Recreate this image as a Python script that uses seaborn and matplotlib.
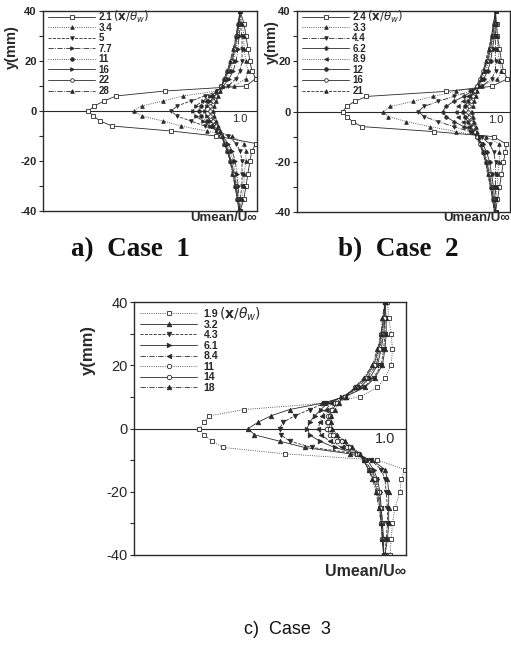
import numpy as np
import pandas as pd
import seaborn as sns
import matplotlib.pyplot as plt
from matplotlib.ticker import MultipleLocator

sns.set_style("ticks")
plt.rcParams['font.family'] = ['Liberation Sans', 'DejaVu Sans']
plt.rcParams['axes.unicode_minus'] = False

# y positions of the traverse (mm), same for every profile
y_mm = [-40, -35, -30, -25, -20, -16, -13, -10, -8, -6, -4, -2, 0,
        2, 4, 6, 8, 10, 13, 16, 20, 25, 30, 35, 40]

# Case 1: Umean/Uinf profiles, labels are x/theta_w
case1_labels = ["2.1", "3.4", "5", "7.7", "11", "16", "22", "28"]
case1_u = [
    [1.00, 1.02, 1.03, 1.04, 1.05, 1.06, 1.08, 0.88, 0.65, 0.35, 0.29, 0.255, 0.23,
     0.26, 0.31, 0.37, 0.62, 1.03, 1.08, 1.06, 1.05, 1.04, 1.03, 1.02, 1.00],
    [1.00, 1.01, 1.02, 1.02, 1.03, 1.03, 1.02, 0.96, 0.83, 0.70, 0.61, 0.50, 0.46,
     0.50, 0.61, 0.71, 0.88, 0.97, 1.03, 1.04, 1.03, 1.02, 1.02, 1.01, 1.00],
    [1.00, 1.00, 1.01, 1.01, 1.01, 1.00, 0.98, 0.94, 0.89, 0.82, 0.75, 0.68, 0.65,
     0.68, 0.75, 0.82, 0.89, 0.94, 0.98, 1.00, 1.01, 1.01, 1.01, 1.00, 1.00],
    [1.00, 0.995, 0.99, 0.985, 0.975, 0.96, 0.94, 0.91, 0.885, 0.85, 0.81, 0.775, 0.76,
     0.775, 0.81, 0.85, 0.885, 0.915, 0.945, 0.965, 0.98, 0.99, 0.995, 1.00, 1.00],
    [1.00, 0.99, 0.985, 0.975, 0.965, 0.95, 0.93, 0.905, 0.885, 0.86, 0.83, 0.80, 0.79,
     0.80, 0.83, 0.86, 0.885, 0.905, 0.93, 0.95, 0.965, 0.98, 0.99, 0.995, 1.00],
    [1.00, 0.99, 0.98, 0.97, 0.955, 0.94, 0.925, 0.905, 0.89, 0.87, 0.85, 0.83, 0.82,
     0.83, 0.85, 0.87, 0.89, 0.905, 0.925, 0.94, 0.96, 0.975, 0.985, 0.995, 1.00],
    [0.995, 0.985, 0.975, 0.965, 0.95, 0.935, 0.92, 0.905, 0.895, 0.88, 0.865, 0.85, 0.845,
     0.85, 0.865, 0.88, 0.895, 0.905, 0.92, 0.935, 0.955, 0.97, 0.98, 0.99, 1.00],
    [0.995, 0.985, 0.975, 0.96, 0.95, 0.935, 0.92, 0.91, 0.90, 0.89, 0.88, 0.87, 0.865,
     0.87, 0.88, 0.89, 0.90, 0.91, 0.92, 0.935, 0.95, 0.965, 0.98, 0.99, 1.00],
]

# Case 2
case2_labels = ["2.4", "3.3", "4.4", "6.2", "8.9", "12", "16", "21"]
case2_u = [
    [1.00, 1.01, 1.02, 1.03, 1.04, 1.05, 1.055, 0.99, 0.69, 0.325, 0.28, 0.25, 0.23,
     0.25, 0.29, 0.35, 0.75, 0.98, 1.06, 1.04, 1.03, 1.02, 1.01, 1.005, 1.00],
    [1.00, 1.00, 1.01, 1.01, 1.02, 1.02, 1.02, 0.95, 0.80, 0.67, 0.55, 0.46, 0.435,
     0.47, 0.585, 0.685, 0.80, 0.93, 1.01, 1.03, 1.02, 1.01, 1.01, 1.00, 1.00],
    [1.00, 1.00, 1.00, 1.00, 1.00, 0.99, 0.97, 0.93, 0.87, 0.79, 0.71, 0.64, 0.61,
     0.64, 0.71, 0.79, 0.87, 0.93, 0.98, 1.00, 1.00, 1.00, 1.00, 1.00, 1.00],
    [1.00, 0.995, 0.99, 0.98, 0.97, 0.955, 0.935, 0.905, 0.88, 0.84, 0.79, 0.75, 0.735,
     0.75, 0.79, 0.84, 0.88, 0.91, 0.94, 0.96, 0.975, 0.985, 0.995, 1.00, 1.00],
    [1.00, 0.99, 0.985, 0.975, 0.96, 0.945, 0.925, 0.905, 0.885, 0.86, 0.835, 0.81, 0.80,
     0.81, 0.835, 0.86, 0.885, 0.905, 0.93, 0.95, 0.965, 0.98, 0.99, 0.995, 1.00],
    [1.00, 0.99, 0.98, 0.97, 0.955, 0.94, 0.925, 0.905, 0.89, 0.875, 0.86, 0.845, 0.835,
     0.845, 0.86, 0.875, 0.89, 0.905, 0.925, 0.94, 0.96, 0.975, 0.985, 0.995, 1.00],
    [0.995, 0.985, 0.975, 0.965, 0.95, 0.935, 0.92, 0.905, 0.895, 0.885, 0.875, 0.865, 0.86,
     0.865, 0.875, 0.885, 0.895, 0.905, 0.92, 0.935, 0.955, 0.97, 0.98, 0.99, 1.00],
    [0.995, 0.985, 0.975, 0.96, 0.95, 0.935, 0.925, 0.915, 0.905, 0.90, 0.89, 0.885, 0.88,
     0.885, 0.89, 0.90, 0.905, 0.915, 0.925, 0.94, 0.95, 0.965, 0.98, 0.99, 1.00],
]

# Case 3
case3_labels = ["1.9", "3.2", "4.3", "6.1", "8.4", "11", "14", "18"]
case3_u = [
    [1.02, 1.025, 1.03, 1.04, 1.06, 1.065, 1.08, 0.97, 0.60, 0.355, 0.31, 0.28, 0.26,
     0.28, 0.30, 0.44, 0.76, 0.90, 0.97, 1.00, 1.025, 1.03, 1.025, 1.015, 1.01],
    [1.00, 1.01, 1.015, 1.015, 1.015, 1.01, 1.00, 0.95, 0.86, 0.68, 0.58, 0.48, 0.455,
     0.495, 0.545, 0.62, 0.75, 0.84, 0.92, 0.96, 0.99, 1.00, 1.005, 1.005, 1.00],
    [1.00, 1.005, 1.01, 1.01, 1.005, 1.00, 0.985, 0.945, 0.89, 0.71, 0.62, 0.585, 0.58,
     0.595, 0.64, 0.70, 0.76, 0.84, 0.915, 0.955, 0.985, 0.995, 1.00, 1.00, 1.00],
    [0.995, 0.995, 0.99, 0.985, 0.98, 0.97, 0.955, 0.93, 0.89, 0.80, 0.74, 0.70, 0.69,
     0.70, 0.72, 0.745, 0.77, 0.83, 0.90, 0.94, 0.97, 0.985, 0.995, 1.00, 1.00],
    [0.995, 0.99, 0.99, 0.985, 0.975, 0.965, 0.945, 0.92, 0.89, 0.83, 0.78, 0.745, 0.735,
     0.74, 0.75, 0.765, 0.785, 0.83, 0.89, 0.93, 0.965, 0.98, 0.99, 0.995, 1.00],
    [0.995, 0.99, 0.99, 0.985, 0.975, 0.96, 0.94, 0.915, 0.89, 0.85, 0.81, 0.78, 0.77,
     0.77, 0.775, 0.785, 0.80, 0.835, 0.885, 0.925, 0.96, 0.975, 0.99, 0.995, 1.00],
    [0.995, 0.99, 0.985, 0.98, 0.97, 0.955, 0.935, 0.915, 0.895, 0.86, 0.83, 0.795, 0.78,
     0.775, 0.78, 0.79, 0.81, 0.84, 0.88, 0.92, 0.955, 0.975, 0.985, 0.995, 1.00],
    [0.995, 0.99, 0.985, 0.975, 0.965, 0.95, 0.935, 0.915, 0.90, 0.87, 0.84, 0.81, 0.79,
     0.785, 0.785, 0.80, 0.815, 0.845, 0.88, 0.915, 0.95, 0.97, 0.985, 0.99, 1.00],
]

# marker / open-or-filled / linestyle for each legend entry
case1_style = [("s", False, "-"), ("^", True, ":"), ("v", True, "--"), (">", True, "-."),
               ("o", True, ":"), (">", True, "-"), ("o", False, "-"), ("^", True, "-.")]
case2_style = [("s", False, "-"), ("^", True, ":"), ("v", True, "-."), ("P", True, "-"),
               ("<", True, ":"), ("o", True, "-"), ("o", False, "-"), ("^", True, "--")]
case3_style = [("s", False, ":"), ("^", True, "-"), ("v", True, "--"), (">", True, "-"),
               ("<", True, "-."), ("o", False, ":"), ("o", False, "-"), ("^", True, "-.")]

INK = "#2a2a2a"
W, H = 511, 652

fig = plt.figure(figsize=(W / 100, H / 100), dpi=100)


def px_axes(left, top, right, bottom):
    # axes box given in picture pixels
    return fig.add_axes([left / W, 1 - bottom / H, (right - left) / W, (bottom - top) / H])


def draw_case(ax, labels, profiles, styles, xmax, tick_fs, ms, tick_bold,
              leg_fs, leg_space, hlen, leg_top, tpad):
    handles = []
    for lab, u, (mk, filled, ls) in zip(labels, profiles, styles):
        df = pd.DataFrame({"u": u, "y": y_mm})
        n = len(ax.lines)
        sns.lineplot(data=df, x="u", y="y", ax=ax, sort=False, estimator=None,
                     color=INK, lw=0.6, linestyle=ls, marker=mk, markersize=ms,
                     markeredgecolor=INK, markeredgewidth=0.6,
                     markerfacecolor=INK if filled else "white", legend=False)
        handles.append(ax.lines[n])
    ax.axhline(0, color=INK, lw=0.8, zorder=0)
    ax.set_xlim(0, xmax)
    ax.set_ylim(-40, 40)
    ax.set_xticks([])
    ax.set_xlabel("")
    ax.set_ylabel("")
    ax.yaxis.set_major_locator(MultipleLocator(20))
    ax.yaxis.set_minor_locator(MultipleLocator(10))
    ax.tick_params(axis="y", which="both", direction="out", length=3, width=0.8,
                   color=INK, pad=1.5, labelsize=tick_fs)
    for t in ax.get_yticklabels():
        t.set_fontweight("bold" if tick_bold else "normal")
    for s in ax.spines.values():
        s.set_visible(True)
        s.set_color(INK)
        s.set_linewidth(1.0)
    ax.text(1.0, -1.2, "1.0", ha="center", va="top", fontsize=tick_fs, color=INK)
    leg = ax.legend(handles, labels, loc="upper left", bbox_to_anchor=(0.02, leg_top),
                    frameon=False, fontsize=leg_fs, handlelength=hlen, handletextpad=tpad,
                    labelspacing=leg_space, borderpad=0.1, borderaxespad=0.0)
    for t in leg.get_texts():
        t.set_fontweight("bold")
    return leg


ax1 = px_axes(43, 11, 257, 211)
ax2 = px_axes(297, 11, 510, 212)
ax3 = px_axes(134, 302, 406, 555)

leg1 = draw_case(ax1, case1_labels, case1_u, case1_style, 1.086, 8, 2.6, True,
                 7, 0.06, 4.8, 1.0, 0.35)
leg2 = draw_case(ax2, case2_labels, case2_u, case2_style, 1.073, 8, 2.6, True,
                 7, 0.06, 4.8, 1.0, 0.35)
leg3 = draw_case(ax3, case3_labels, case3_u, case3_style, 1.084, 10.5, 3.2, False,
                 7.6, 0.05, 5.4, 0.976, 0.6)

# "(x/theta_w)" tag after the first legend label
fig.canvas.draw()
for leg, fs in [(leg1, 8.5), (leg2, 8.5), (leg3, 10)]:
    bb = leg.get_texts()[0].get_window_extent()
    fig.text(bb.x1 / W + 0.002, (bb.y0 + bb.y1) / 2 / H, r"$(\mathbf{x}/\theta_w)$",
             fontsize=fs, va="center", ha="left", color=INK)

# axis titles
for x, y, fs in [(12, 47, 10.5), (272, 42, 10.5), (88, 350, 12)]:
    fig.text(x / W, 1 - y / H, "y(mm)", rotation=90, ha="center", va="center",
             fontsize=fs, fontweight="bold", color=INK)
for x, y, fs in [(257, 218, 9.5), (510, 218, 9.5), (406, 572, 11.5)]:
    fig.text(x / W, 1 - y / H, "Umean/U\u221e", ha="right", va="center",
             fontsize=fs, fontweight="bold", color=INK)

# panel captions
serif = ["Liberation Serif", "DejaVu Serif"]
fig.text(130 / W, 1 - 250 / H, "a)  Case  1", ha="center", va="center",
         fontsize=19.5, fontweight="bold", family=serif, color="#111")
fig.text(398 / W, 1 - 250 / H, "b)  Case  2", ha="center", va="center",
         fontsize=19.5, fontweight="bold", family=serif, color="#111")
fig.text(287 / W, 1 - 630 / H, "c)  Case  3", ha="center", va="center",
         fontsize=13, color="#111")

fig.savefig("out.png", dpi=100)
